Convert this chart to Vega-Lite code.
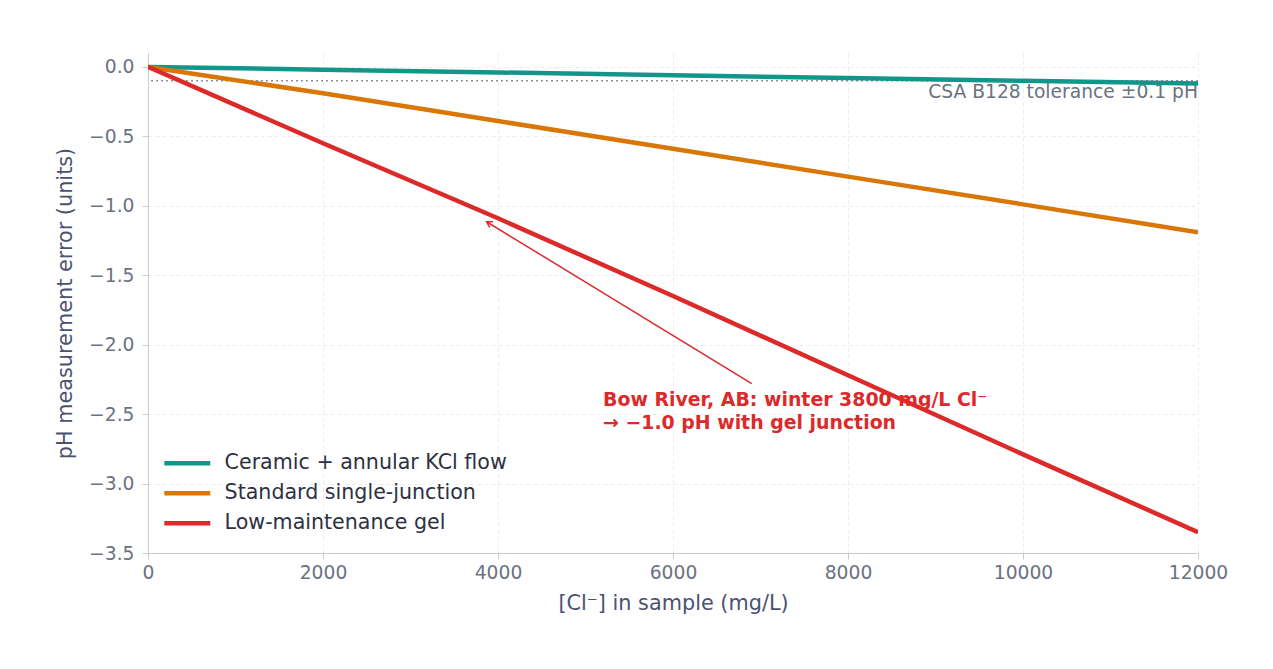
{
  "$schema": "https://vega.github.io/schema/vega-lite/v6.json",
  "width": 1050,
  "height": 500,
  "autosize": {"type": "none"},
  "padding": {"left": 148, "top": 53, "right": 75, "bottom": 116},
  "background": "#ffffff",
  "config": {
    "font": "DejaVu Sans",
    "view": {"stroke": null},
    "axis": {
      "domainColor": "#c9ccd6",
      "tickColor": "#c9ccd6",
      "tickSize": 6,
      "labelColor": "#6b7280",
      "labelFontSize": 18.7,
      "labelFlush": false,
      "titleColor": "#4a5270",
      "titleFontSize": 20.8,
      "titleFontWeight": "normal",
      "gridColor": "#e8e9ee",
      "gridDash": [4, 3],
      "gridWidth": 0.8
    }
  },
  "datasets": {
    "lines": [
      {"cl": 0, "err": 0, "series": "Ceramic + annular KCl flow"},
      {"cl": 2000, "err": -0.02, "series": "Ceramic + annular KCl flow"},
      {"cl": 4000, "err": -0.04, "series": "Ceramic + annular KCl flow"},
      {"cl": 6000, "err": -0.06, "series": "Ceramic + annular KCl flow"},
      {"cl": 8000, "err": -0.08, "series": "Ceramic + annular KCl flow"},
      {"cl": 10000, "err": -0.10, "series": "Ceramic + annular KCl flow"},
      {"cl": 12000, "err": -0.12, "series": "Ceramic + annular KCl flow"},
      {"cl": 0, "err": 0, "series": "Standard single-junction"},
      {"cl": 2000, "err": -0.19, "series": "Standard single-junction"},
      {"cl": 4000, "err": -0.39, "series": "Standard single-junction"},
      {"cl": 6000, "err": -0.59, "series": "Standard single-junction"},
      {"cl": 8000, "err": -0.79, "series": "Standard single-junction"},
      {"cl": 10000, "err": -0.99, "series": "Standard single-junction"},
      {"cl": 12000, "err": -1.19, "series": "Standard single-junction"},
      {"cl": 0, "err": 0, "series": "Low-maintenance gel"},
      {"cl": 2000, "err": -0.55, "series": "Low-maintenance gel"},
      {"cl": 4000, "err": -1.09, "series": "Low-maintenance gel"},
      {"cl": 6000, "err": -1.65, "series": "Low-maintenance gel"},
      {"cl": 8000, "err": -2.22, "series": "Low-maintenance gel"},
      {"cl": 10000, "err": -2.79, "series": "Low-maintenance gel"},
      {"cl": 12000, "err": -3.35, "series": "Low-maintenance gel"}
    ]
  },
  "layer": [
    {
      "data": {"values": [{"tol": -0.1}]},
      "mark": {"type": "rule", "color": "#8a8f9c", "strokeDash": [2, 3], "strokeWidth": 1.5},
      "encoding": {"y": {"field": "tol", "type": "quantitative"}}
    },
    {
      "data": {"values": [{"x": 12000, "y": -0.1, "label": "CSA B128 tolerance ±0.1 pH"}]},
      "mark": {"type": "text", "align": "right", "baseline": "top", "dy": 2, "fontSize": 18.7, "color": "#6b7280"},
      "encoding": {
        "x": {"field": "x", "type": "quantitative"},
        "y": {"field": "y", "type": "quantitative"},
        "text": {"field": "label"}
      }
    },
    {
      "data": {"name": "lines"},
      "mark": {"type": "line", "strokeWidth": 4.5, "clip": true},
      "encoding": {
        "x": {
          "field": "cl", "type": "quantitative",
          "scale": {"domain": [0, 12000], "nice": false, "zero": false},
          "axis": {"values": [0, 2000, 4000, 6000, 8000, 10000, 12000], "format": "d", "title": "[Cl⁻] in sample (mg/L)", "titlePadding": 12, "labelPadding": 4, "grid": true}
        },
        "y": {
          "field": "err", "type": "quantitative",
          "scale": {"domain": [-3.5, 0.1], "nice": false, "zero": false},
          "axis": {"values": [0, -0.5, -1, -1.5, -2, -2.5, -3, -3.5], "format": ".1f", "title": "pH measurement error (units)", "titlePadding": 13, "labelPadding": 8, "grid": true}
        },
        "color": {
          "field": "series", "type": "nominal",
          "scale": {
            "domain": ["Ceramic + annular KCl flow", "Standard single-junction", "Low-maintenance gel"],
            "range": ["#13968a", "#d97706", "#dc2a2a"]
          },
          "legend": {
            "title": null,
            "orient": "none",
            "legendX": 29,
            "legendY": 400,
            "symbolType": "M-4,0 L4,0",
            "symbolSize": 132,
            "symbolStrokeWidth": 4.5,
            "labelFontSize": 20.6,
            "labelLimit": 500,
            "labelColor": "#2d3142",
            "labelOffset": 27,
            "rowPadding": 9
          }
        }
      }
    },
    {
      "data": {"values": [{"x1": 6900, "y1": -2.28, "x2": 3870, "y2": -1.115}]},
      "mark": {"type": "rule", "color": "#dc2a2a", "strokeWidth": 1.5},
      "encoding": {
        "x": {"field": "x1", "type": "quantitative"},
        "y": {"field": "y1", "type": "quantitative"},
        "x2": {"field": "x2"},
        "y2": {"field": "y2"}
      }
    },
    {
      "data": {"values": [{"x": 3870, "y": -1.115}]},
      "mark": {"type": "point", "shape": "M-0.6,1 L0,0 L0.6,1", "filled": false, "stroke": "#dc2a2a", "strokeWidth": 1.5, "size": 120, "angle": 301, "opacity": 1},
      "encoding": {
        "x": {"field": "x", "type": "quantitative"},
        "y": {"field": "y", "type": "quantitative"}
      }
    },
    {
      "data": {"values": [
        {"x": 5200, "y": -2.4, "t": "Bow River, AB: winter 3800 mg/L Cl⁻"},
        {"x": 5200, "y": -2.565, "t": "→ −1.0 pH with gel junction"}
      ]},
      "mark": {"type": "text", "align": "left", "baseline": "middle", "fontSize": 18.9, "fontWeight": "bold", "color": "#dc2a2a"},
      "encoding": {
        "x": {"field": "x", "type": "quantitative"},
        "y": {"field": "y", "type": "quantitative"},
        "text": {"field": "t"}
      }
    }
  ]
}
